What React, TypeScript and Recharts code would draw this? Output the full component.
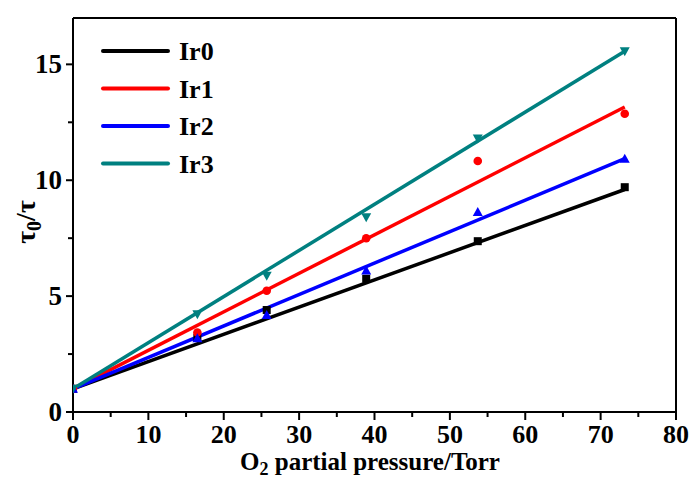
import React from 'react';
import {
  ComposedChart,
  Line,
  Scatter,
  XAxis,
  YAxis,
  Legend,
  ReferenceLine,
} from 'recharts';

// O2 partial pressure (Torr) and tau0/tau readings
const pressure = [0, 16.5, 25.7, 38.9, 53.7, 73.2];
const ir0 = [1, 3.2, 4.4, 5.75, 7.37, 9.7];
const ir1 = [1, 3.43, 5.23, 7.5, 10.83, 12.87];
const ir2 = [1, 3.18, 4.18, 6.1, 8.63, 10.93];
const ir3 = [1, 4.22, 5.88, 8.4, 11.8, 15.57];

// linear fit end points
const fitX = [0, 73.2];
const fit0 = [1, 9.6];
const fit1 = [1, 13.16];
const fit2 = [1, 10.93];
const fit3 = [1, 15.57];

const xTicks = [0, 5, 10, 15, 20, 25, 30, 35, 40, 45, 50, 55, 60, 65, 70, 75, 80];
const yTicks = [0, 2.5, 5, 7.5, 10, 12.5, 15];

const series = [
  { name: 'Ir0', color: '#000000', values: ir0, fit: fit0, marker: 'square' },
  { name: 'Ir1', color: '#ff0000', values: ir1, fit: fit1, marker: 'circle' },
  { name: 'Ir2', color: '#0000ff', values: ir2, fit: fit2, marker: 'up' },
  { name: 'Ir3', color: '#008080', values: ir3, fit: fit3, marker: 'down' },
];

const FONT = '"Liberation Serif", "Times New Roman", serif';

const toPoints = (xs: number[], ys: number[]) => xs.map((x, i) => ({ x, y: ys[i] }));

const Marker = ({ cx, cy, kind, color }: any) => {
  if (cx == null || cy == null) return null;
  if (kind === 'square') return <rect x={cx - 4} y={cy - 4} width={8} height={8} fill={color} />;
  if (kind === 'circle') return <circle cx={cx} cy={cy} r={4.3} fill={color} />;
  if (kind === 'up')
    return <polygon points={`${cx},${cy - 5} ${cx - 5},${cy + 4} ${cx + 5},${cy + 4}`} fill={color} />;
  return <polygon points={`${cx},${cy + 5} ${cx - 5},${cy - 4} ${cx + 5},${cy - 4}`} fill={color} />;
};

const XTick = ({ x, y, payload }: any) => {
  const major = payload.value % 10 === 0;
  return (
    <g>
      <line x1={x} y1={y} x2={x} y2={y + (major ? 8 : 5)} stroke="#000" strokeWidth={2} />
      {major && (
        <text x={x} y={y + 31} textAnchor="middle" fontFamily={FONT} fontWeight="bold" fontSize={26} fill="#000">
          {payload.value}
        </text>
      )}
    </g>
  );
};

const YTick = ({ x, y, payload }: any) => {
  const major = payload.value % 5 === 0;
  return (
    <g>
      <line x1={x} y1={y} x2={x - (major ? 7 : 5)} y2={y} stroke="#000" strokeWidth={2} />
      {major && (
        <text x={x - 11} y={y + 9} textAnchor="end" fontFamily={FONT} fontWeight="bold" fontSize={27} fill="#000">
          {payload.value}
        </text>
      )}
    </g>
  );
};

const LegendBox = () => (
  <svg width={120} height={150}>
    {series.map((s, i) => {
      const cy = 19 + i * 37.5;
      return (
        <g key={s.name}>
          <line x1={3} y1={cy} x2={68} y2={cy} stroke={s.color} strokeWidth={4} strokeLinecap="round" />
          <text x={79} y={cy + 9} fontFamily={FONT} fontWeight="bold" fontSize={26} fill="#000">
            {s.name}
          </text>
        </g>
      );
    })}
  </svg>
);

export default function App() {
  return (
    <div style={{ position: 'absolute', left: 0, top: 0, background: '#fff' }}>
      <ComposedChart width={693} height={484} margin={{ top: 18, right: 17, left: 0, bottom: 0 }}>
        <XAxis
          type="number"
          dataKey="x"
          domain={[0, 80]}
          ticks={xTicks}
          interval={0}
          height={72}
          tickSize={0}
          tickMargin={0}
          tick={<XTick />}
          axisLine={{ stroke: '#000', strokeWidth: 2 }}
          tickLine={false}
          allowDataOverflow
        />
        <YAxis
          type="number"
          dataKey="y"
          domain={[0, 17]}
          ticks={yTicks}
          interval={0}
          width={73}
          tickSize={0}
          tickMargin={0}
          tick={<YTick />}
          axisLine={{ stroke: '#000', strokeWidth: 2 }}
          tickLine={false}
          allowDataOverflow
        />
        <ReferenceLine y={17} stroke="#000" strokeWidth={2} />
        <ReferenceLine x={80} stroke="#000" strokeWidth={2} />
        {series.map((s) => (
          <Line
            key={`fit-${s.name}`}
            data={toPoints(fitX, s.fit)}
            dataKey="y"
            type="linear"
            stroke={s.color}
            strokeWidth={3.5}
            dot={false}
            activeDot={false}
            legendType="none"
            isAnimationActive={false}
          />
        ))}
        {series.map((s) => (
          <Scatter
            key={`pts-${s.name}`}
            name={s.name}
            data={toPoints(pressure, s.values)}
            dataKey="y"
            fill={s.color}
            shape={(p: any) => <Marker cx={p.cx} cy={p.cy} kind={s.marker} color={s.color} />}
            isAnimationActive={false}
          />
        ))}
        <Legend
          layout="vertical"
          verticalAlign="middle"
          align="center"
          wrapperStyle={{ left: 100, top: 32, width: 120, height: 150 }}
          content={<LegendBox />}
        />
        <text x={370} y={470} textAnchor="middle" fontFamily={FONT} fontWeight="bold" fontSize={25} fill="#000">
          O<tspan dy={5} fontSize={18}>2</tspan>
          <tspan dy={-5}> partial pressure/Torr</tspan>
        </text>
        <text
          transform="translate(35, 222) rotate(-90)"
          textAnchor="middle"
          fontFamily={FONT}
          fontWeight="bold"
          fontSize={28}
          fill="#000"
        >
          τ<tspan dy={6} fontSize={20}>0</tspan>
          <tspan dy={-6}>/τ</tspan>
        </text>
      </ComposedChart>
    </div>
  );
}
